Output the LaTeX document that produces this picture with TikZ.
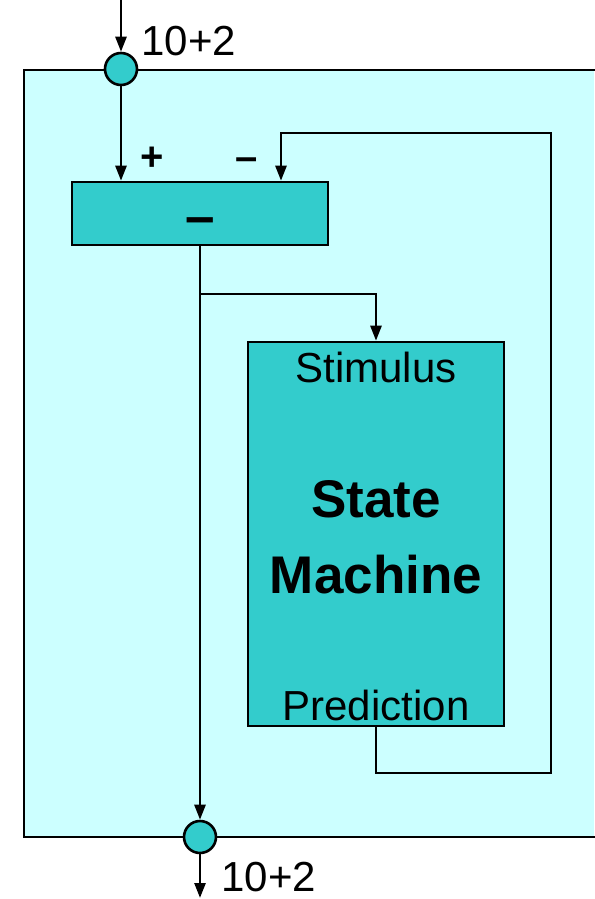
\documentclass[tikz,border=0pt]{standalone}
\usepackage{fontspec}
\setmainfont{Liberation Sans}
\usetikzlibrary{arrows.meta}
\definecolor{panel}{HTML}{CCFFFF}
\definecolor{tealfill}{HTML}{33CCCC}
\tikzset{
  block/.style={draw, fill=tealfill, inner sep=0pt},
  junction/.style={circle, draw, fill=tealfill, minimum size=32pt, inner sep=0pt},
  lbl/.style={font=\fontsize{42}{48}\selectfont, inner sep=0pt},
  title/.style={font=\fontsize{53}{60}\selectfont\bfseries, inner sep=0pt},
  sign/.style={font=\fontsize{40}{46}\selectfont\bfseries, inner sep=0pt},
}
\begin{document}
\begin{tikzpicture}[x=1pt, y=-1pt, line width=2.6pt,
  >={Triangle[length=15pt,width=11pt]}]
\useasboundingbox (0,0) rectangle (594,899);
% light panel holding the whole loop
\fill[panel] (24,70) rectangle (594,837);
\draw (598,70) -- (24,70) -- (24,837) -- (598,837);

% blocks and junctions
\node[block, minimum width=256pt, minimum height=63pt] (sub) at (200,213.5) {};
\node[block, minimum width=256pt, minimum height=384pt] (sm) at (376,534) {};
\node[junction] (in) at (121,69) {};
\node[junction] (out) at (200,837) {};

% labels
\node[title, anchor=base] (minus) at (200,234) {–};
\node[sign, anchor=base] (plus) at (152,170) {+};
\node[sign, anchor=base] (neg) at (247,170) {–};
\node[lbl, anchor=base] (stim) at (376,382) {Stimulus};
\node[title, anchor=base] (st1) at (376,517) {State};
\node[title, anchor=base] (st2) at (376,593) {Machine};
\node[lbl, anchor=base] (pred) at (376,720) {Prediction};
\node[lbl, anchor=base west] (inlbl) at (140,56) {10+2};
\node[lbl, anchor=base west] (outlbl) at (220,891) {10+2};

% connector end points
\coordinate (src) at (121,0);
\coordinate (sink) at (200,898);
\coordinate (br) at (200,294);
\coordinate (fbR) at (551,773);
\coordinate (fbT) at (281,133);

% connectors
\draw[->] (src) -- (in.north);
\draw[->] (in.south) -- (in.south |- sub.north);
\draw[->] (sub.south) -- (out.north);
\draw[->] (br) -| (sm.north);
\draw[->] (sm.south) |- (fbR) |- (fbT) -- (fbT |- sub.north);
\draw[->] (out.south) -- (sink);
\end{tikzpicture}
\end{document}
